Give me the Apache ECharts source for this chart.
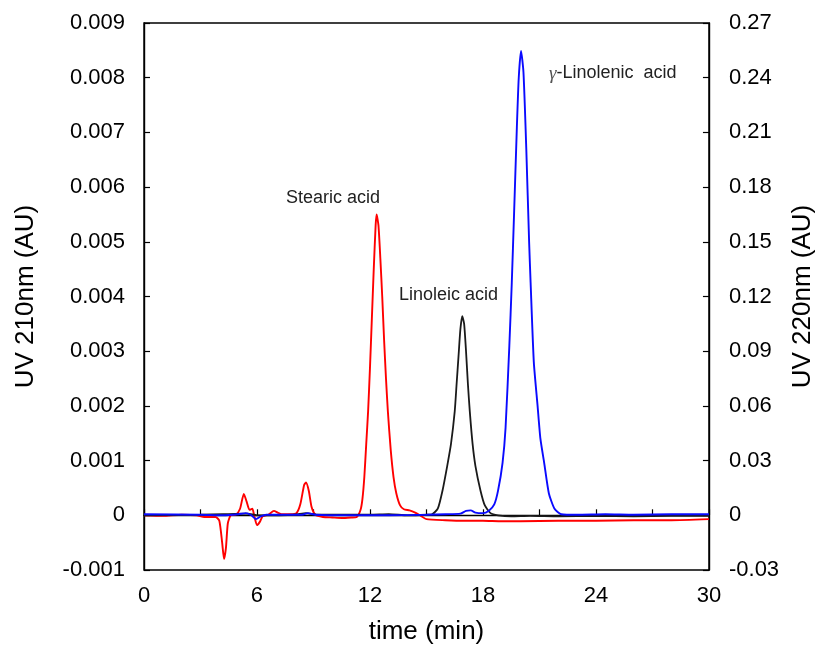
<!DOCTYPE html>
<html>
<head>
<meta charset="utf-8">
<script src="https://cdn.jsdelivr.net/npm/echarts@6/dist/echarts.min.js"></script>
<style>html,body{margin:0;padding:0;background:#fff;overflow:hidden;}#c{width:824px;height:650px;}</style>
</head>
<body>
<div id="c"></div>
<script>
// Red trace (UV 210 nm, left axis, AU)
var redTime = [0,1,2,2.8,3.2,3.8,4.0,4.15,4.25,4.35,4.45,4.6,4.9,5.1,5.3,5.45,5.6,5.75,5.85,6.0,6.15,6.3,6.6,6.9,7.1,7.3,7.8,8.1,8.3,8.5,8.6,8.75,8.9,9.1,9.5,10,10.5,11,11.3,11.5,11.6,11.7,11.8,11.9,12.0,12.1,12.2,12.3,12.35,12.45,12.55,12.65,12.75,12.85,12.95,13.1,13.25,13.4,13.6,13.8,14.1,14.4,14.7,15,16,17,18,19,20,22,24,26,28,30];
var redValue = [0,-0.00001,0.00001,0,-0.00003,-0.00003,-0.0001,-0.0005,-0.0008,-0.0006,-0.00015,0,0.00002,0.00012,0.00039,0.00025,0.0001,0.00012,0,-0.00018,-0.00012,-0.00002,0.00001,0.00008,0.00005,0.00002,0.00002,0.00004,0.0002,0.00055,0.0006,0.00045,0.00015,0.00001,-0.00003,-0.00004,-0.00005,-0.00004,-0.00003,0.0001,0.0003,0.0007,0.0013,0.0019,0.0027,0.0036,0.0045,0.0053,0.0055,0.0053,0.0047,0.004,0.0032,0.0025,0.0019,0.0012,0.0007,0.0004,0.00018,0.00011,0.00009,0.00005,-0.00001,-0.00007,-0.00009,-0.0001,-0.0001,-0.00011,-0.00011,-0.0001,-0.0001,-0.00009,-0.00009,-0.00007];
// Black trace (left axis, AU)
var blackTime = [0,3,4.2,5.5,6.0,8.0,8.6,9.2,12,13,14,15,15.3,15.6,15.85,16.1,16.3,16.5,16.6,16.7,16.8,16.9,17.0,17.1,17.2,17.3,17.45,17.6,17.87,18.1,18.4,18.8,19.5,20.5,22,24,26,28,30];
var blackValue = [0,0.00001,0.00002,0.00003,0,0.00001,0.00004,0.00001,0.00001,0.00002,0,0.00001,0.00002,0.00012,0.00045,0.0009,0.0013,0.0019,0.0024,0.0029,0.0034,0.00364,0.0035,0.003,0.0024,0.0019,0.0013,0.0009,0.00045,0.00018,0.00004,0,-0.00002,-0.00001,-0.00002,-0.00001,-0.00002,-0.00001,-0.00001];
// Blue trace (UV 220 nm, right axis, AU)
var blueTime = [0,3,4.2,5.0,5.4,5.7,5.95,6.2,6.5,8.4,8.7,9.1,11,13,15,16,16.8,17.1,17.35,17.6,18.0,18.3,18.6,18.8,19.04,19.2,19.4,19.53,19.65,19.8,19.9,20.02,20.15,20.3,20.45,20.53,20.7,20.9,21.05,21.25,21.5,21.8,22.16,23,24.5,26,28,30];
var blueValue = [0.0006,0.0003,0,0.0006,0.0012,0,-0.0021,-0.0006,0.0003,0.0003,0.0012,0.0003,0,0,0.0003,0.0006,0.0009,0.0024,0.0027,0.0015,0.0012,0.0024,0.006,0.0135,0.0288,0.048,0.093,0.1275,0.165,0.213,0.24,0.2547,0.243,0.201,0.15,0.1275,0.084,0.06,0.042,0.0288,0.012,0.0036,0.0006,0.0003,0.0006,0.0003,0.0006,0.0006];

var peakLabels = ['Stearic acid', 'Linoleic acid', '-Linolenic  acid'];
var xName = 'time (min)';
var leftName = 'UV 210nm (AU)';
var rightName = 'UV 220nm (AU)';

function pairs(t, v) { return t.map(function (x, i) { return [x, v[i]]; }); }

var FONT = '"Liberation Sans", Arial, sans-serif';
var chart = echarts.init(document.getElementById('c'), null, { renderer: 'canvas' });
var axisCommon = {
  axisLine: { show: true, lineStyle: { color: '#000', width: 1.4 } },
  axisTick: { show: true, inside: true, length: 6, lineStyle: { color: '#000', width: 1.2 } },
  splitLine: { show: false }
};
chart.setOption({
  animation: false,
  backgroundColor: '#fff',
  grid: { left: 144, right: 107, top: 23, bottom: 78, show: true, borderColor: '#000', borderWidth: 1.4, backgroundColor: 'transparent' },
  xAxis: Object.assign({
    type: 'value', min: 0, max: 30, interval: 3,
    name: xName, nameLocation: 'middle', nameGap: 49,
    nameTextStyle: { fontFamily: FONT, fontSize: 26, color: '#000' },
    axisLabel: { margin: 15, fontFamily: FONT, fontSize: 22, color: '#000',
      formatter: function (v) { return (Math.round(v) % 6 === 0) ? String(Math.round(v)) : ''; } }
  }, axisCommon),
  yAxis: [
    Object.assign({
      type: 'value', min: -0.001, max: 0.009, interval: 0.001, position: 'left',
      name: leftName, nameLocation: 'middle', nameGap: 105, nameRotate: 90,
      nameTextStyle: { fontFamily: FONT, fontSize: 26, color: '#000' },
      axisLabel: { margin: 19, fontFamily: FONT, fontSize: 22, color: '#000',
        formatter: function (v) { return Math.abs(v) < 1e-9 ? '0' : v.toFixed(3); } }
    }, axisCommon),
    Object.assign({
      type: 'value', min: -0.03, max: 0.27, interval: 0.03, position: 'right',
      name: rightName, nameLocation: 'middle', nameGap: 74, nameRotate: 90,
      nameTextStyle: { fontFamily: FONT, fontSize: 26, color: '#000' },
      axisLabel: { margin: 20, fontFamily: FONT, fontSize: 22, color: '#000',
        formatter: function (v) { return Math.abs(v) < 1e-9 ? '0' : v.toFixed(2); } }
    }, axisCommon)
  ],
  series: [
    { type: 'line', yAxisIndex: 0, data: pairs(redTime, redValue), showSymbol: false, symbol: 'none', smooth: 0.2,
      lineStyle: { color: '#ff0000', width: 1.9 }, z: 2 },
    { type: 'line', yAxisIndex: 0, data: pairs(blackTime, blackValue), showSymbol: false, symbol: 'none', smooth: 0.2,
      lineStyle: { color: '#1a1a1a', width: 1.8 }, z: 3 },
    { type: 'line', yAxisIndex: 1, data: pairs(blueTime, blueValue), showSymbol: false, symbol: 'none', smooth: 0.2,
      lineStyle: { color: '#0a0aff', width: 1.9 }, z: 4 }
  ],
  graphic: [
    { type: 'text', left: 286, top: 189, style: { text: peakLabels[0], font: '18px ' + FONT, fill: '#222' } },
    { type: 'text', left: 399, top: 286, style: { text: peakLabels[1], font: '18px ' + FONT, fill: '#222' } },
    { type: 'text', left: 549, top: 64, style: {
        text: '{g|γ}{t|' + peakLabels[2] + '}',
        rich: {
          g: { fontFamily: '"Liberation Serif", "DejaVu Serif", serif', fontStyle: 'italic', fontSize: 19, fill: '#555', color: '#555' },
          t: { fontFamily: FONT, fontSize: 18, fill: '#222', color: '#222' }
        } } }
  ]
});
</script>
</body>
</html>
